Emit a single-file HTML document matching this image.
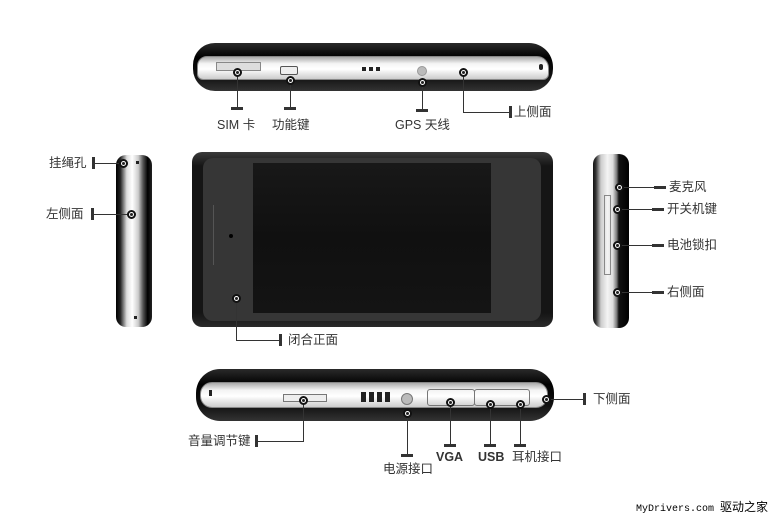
<!DOCTYPE html>
<html><head><meta charset="utf-8"><style>
body{margin:0;width:772px;height:519px;background:#fff;position:relative;overflow:hidden;font-family:"Liberation Sans","Noto Sans CJK SC",sans-serif;}
div{position:absolute;box-sizing:border-box;}
.t{font-size:12.5px;color:#333;white-space:nowrap;line-height:14px;}
.m{width:9px;height:9px;border-radius:50%;background:#fff;border:2px solid #111;margin:-4.5px 0 0 -4.5px;}
.m::after{content:"";position:absolute;left:1px;top:1px;width:3px;height:3px;border-radius:50%;background:#222;}
.v{width:1px;background:#333;}
.h{height:1px;background:#333;}
.hb{width:12px;height:3px;background:#333;}
.vb{width:3px;height:12px;background:#333;}
.blk{background:linear-gradient(#2a2a2a,#000 30%,#111 70%,#333);}
.sil{background:linear-gradient(#aaa,#f4f4f4 30%,#fff 55%,#ccc);border:1px solid #888;}
</style></head><body>

<!-- top device -->
<div class="blk" style="left:193px;top:43px;width:360px;height:48px;border-radius:22px 24px 22px 22px;"></div>
<div class="sil" style="left:197px;top:56px;width:352px;height:24px;border-radius:10px 12px 6px 6px;"></div>
<div style="left:216px;top:62px;width:45px;height:9px;border:1px solid #888;background:#ddd;"></div>
<div style="left:280px;top:66px;width:18px;height:9px;border:1px solid #555;border-radius:2px;background:#eee;"></div>
<div style="left:362px;top:67px;width:18px;height:4px;background:repeating-linear-gradient(90deg,#222 0 4px,transparent 4px 7px);"></div>
<div style="left:417px;top:66px;width:10px;height:10px;border-radius:50%;background:#bbb;border:1px solid #999;"></div>
<div style="left:539px;top:64px;width:4px;height:6px;border-radius:2px;background:#222;"></div>

<!-- left side -->
<div style="left:116px;top:155px;width:36px;height:172px;border-radius:10px;background:linear-gradient(90deg,#000 0,#222 12%,#ddd 30%,#fff 45%,#ccc 62%,#555 75%,#000 88%,#222);"></div>
<div style="left:136px;top:161px;width:3px;height:3px;background:#222;"></div>
<div style="left:134px;top:316px;width:3px;height:3px;background:#222;"></div>

<!-- front -->
<div style="left:192px;top:152px;width:361px;height:175px;border-radius:10px;background:linear-gradient(#3a3a3a,#151515 8%,#151515 92%,#2a2a2a);"></div>
<div style="left:203px;top:158px;width:338px;height:163px;border-radius:10px;background:#363636;"></div>
<div style="left:253px;top:163px;width:238px;height:150px;background:linear-gradient(#181818,#101010 50%,#141414);"></div>
<div style="left:229px;top:234px;width:4px;height:4px;border-radius:50%;background:#000;"></div>
<div style="left:213px;top:205px;width:10px;height:60px;border-left:1px solid #555;"></div>

<!-- right side -->
<div style="left:593px;top:154px;width:36px;height:174px;border-radius:10px;background:linear-gradient(90deg,#111 0,#333 8%,#ccc 22%,#f4f4f4 40%,#ddd 55%,#777 66%,#111 72%,#000);"></div>
<div style="left:604px;top:195px;width:7px;height:80px;border:1px solid #888;"></div>

<!-- bottom device -->
<div class="blk" style="left:196px;top:369px;width:358px;height:52px;border-radius:24px;"></div>
<div class="sil" style="left:200px;top:382px;width:348px;height:26px;border-radius:12px;"></div>
<div style="left:209px;top:390px;width:3px;height:6px;background:#222;"></div>
<div style="left:283px;top:394px;width:44px;height:8px;border:1px solid #777;background:#eee;"></div>
<div style="left:361px;top:392px;width:31px;height:10px;background:repeating-linear-gradient(90deg,#222 0 5px,transparent 5px 8px);"></div>
<div style="left:401px;top:393px;width:12px;height:12px;border-radius:50%;background:#bbb;border:1px solid #777;"></div>
<div style="left:427px;top:389px;width:48px;height:17px;border:1px solid #777;border-radius:3px;"></div>
<div style="left:474px;top:389px;width:56px;height:17px;border:1px solid #777;border-radius:3px;"></div>

<!-- top labels -->
<div class="v" style="left:237px;top:72px;height:36px;"></div><div class="hb" style="left:231px;top:107px;"></div><div class="m" style="left:237px;top:72px;"></div>
<div class="t" style="left:217px;top:118px;">SIM 卡</div>
<div class="v" style="left:290px;top:80px;height:28px;"></div><div class="hb" style="left:284px;top:107px;"></div><div class="m" style="left:290px;top:80px;"></div>
<div class="t" style="left:272px;top:118px;">功能键</div>
<div class="v" style="left:422px;top:82px;height:28px;"></div><div class="hb" style="left:416px;top:109px;"></div><div class="m" style="left:422px;top:82px;"></div>
<div class="t" style="left:395px;top:118px;">GPS 天线</div>
<div class="v" style="left:463px;top:72px;height:41px;"></div><div class="h" style="left:463px;top:112px;width:47px;"></div><div class="vb" style="left:509px;top:106px;"></div><div class="m" style="left:463px;top:72px;"></div>
<div class="t" style="left:514px;top:105px;">上侧面</div>

<!-- left labels -->
<div class="t" style="left:49px;top:156px;">挂绳孔</div><div class="vb" style="left:92px;top:157px;"></div><div class="h" style="left:93px;top:163px;width:30px;"></div><div class="m" style="left:123px;top:163px;"></div>
<div class="t" style="left:46px;top:207px;">左侧面</div><div class="vb" style="left:91px;top:208px;"></div><div class="h" style="left:92px;top:214px;width:39px;"></div><div class="m" style="left:131px;top:214px;"></div>

<!-- front label -->
<div class="v" style="left:236px;top:298px;height:43px;"></div><div class="h" style="left:236px;top:340px;width:44px;"></div><div class="vb" style="left:279px;top:334px;"></div><div class="m" style="left:236px;top:298px;"></div>
<div class="t" style="left:288px;top:333px;">闭合正面</div>

<!-- right labels -->
<div class="h" style="left:619px;top:187px;width:36px;"></div><div class="hb" style="left:654px;top:186px;"></div><div class="m" style="left:619px;top:187px;"></div><div class="t" style="left:669px;top:180px;">麦克风</div>
<div class="h" style="left:617px;top:209px;width:38px;"></div><div class="hb" style="left:652px;top:208px;"></div><div class="m" style="left:617px;top:209px;"></div><div class="t" style="left:667px;top:202px;">开关机键</div>
<div class="h" style="left:617px;top:245px;width:38px;"></div><div class="hb" style="left:652px;top:244px;"></div><div class="m" style="left:617px;top:245px;"></div><div class="t" style="left:667px;top:238px;">电池锁扣</div>
<div class="h" style="left:617px;top:292px;width:38px;"></div><div class="hb" style="left:652px;top:291px;"></div><div class="m" style="left:617px;top:292px;"></div><div class="t" style="left:667px;top:285px;">右侧面</div>

<!-- bottom labels -->
<div class="t" style="left:188px;top:434px;">音量调节键</div><div class="vb" style="left:255px;top:435px;"></div><div class="h" style="left:256px;top:441px;width:47px;"></div><div class="v" style="left:303px;top:400px;height:42px;"></div><div class="m" style="left:303px;top:400px;"></div>
<div class="v" style="left:407px;top:413px;height:42px;"></div><div class="hb" style="left:401px;top:454px;"></div><div class="m" style="left:407px;top:413px;"></div><div class="t" style="left:383px;top:462px;">电源接口</div>
<div class="v" style="left:450px;top:402px;height:43px;"></div><div class="hb" style="left:444px;top:444px;"></div><div class="m" style="left:450px;top:402px;"></div><div class="t" style="left:436px;top:450px;font-weight:bold;">VGA</div>
<div class="v" style="left:490px;top:404px;height:41px;"></div><div class="hb" style="left:484px;top:444px;"></div><div class="m" style="left:490px;top:404px;"></div><div class="t" style="left:478px;top:450px;font-weight:bold;">USB</div>
<div class="v" style="left:520px;top:404px;height:41px;"></div><div class="hb" style="left:514px;top:444px;"></div><div class="m" style="left:520px;top:404px;"></div><div class="t" style="left:512px;top:450px;">耳机接口</div>
<div class="h" style="left:546px;top:399px;width:38px;"></div><div class="vb" style="left:583px;top:393px;"></div><div class="m" style="left:546px;top:399px;"></div><div class="t" style="left:593px;top:392px;">下侧面</div>

<div style="left:636px;top:498px;font-family:'Liberation Mono','Noto Sans CJK SC',monospace;font-size:10px;color:#000;white-space:nowrap;">MyDrivers.com <span style="font-family:'Noto Sans CJK SC',sans-serif;font-size:12px;">驱动之家</span></div>
</body></html>
